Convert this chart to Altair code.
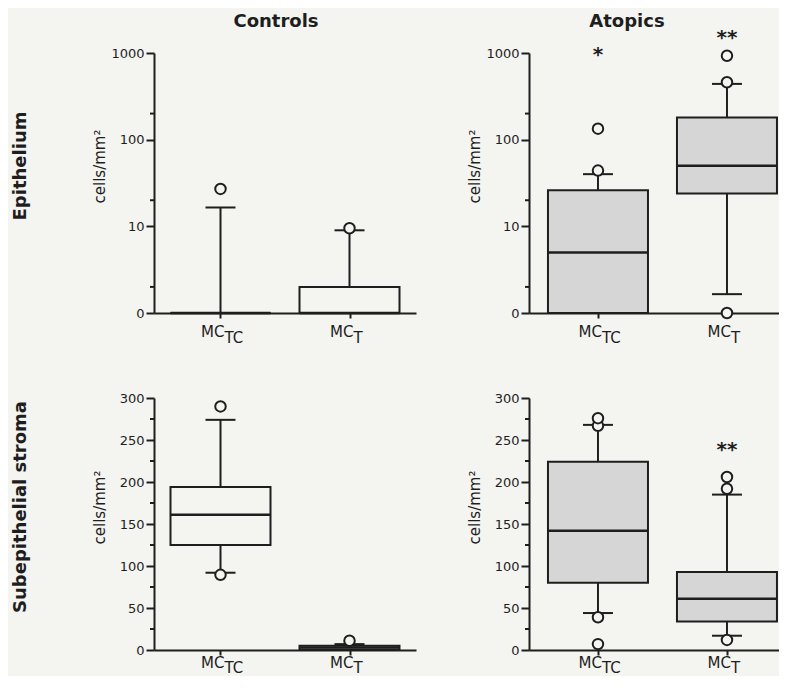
import altair as alt
import pandas as pd

# ---------------- data ----------------
categories = ["MC_TC", "MC_T"]
cat_main = ["MC", "MC"]
cat_sub = ["TC", "T"]
col_titles = ["Controls", "Atopics"]
row_titles = ["Epithelium", "Subepithelial stroma"]
y_title = "cells/mm²"

# Epithelium - Controls (log axis; 0 is drawn at the bottom decade)
epi_ctrl_q1 = [0, 0]
epi_ctrl_med = [0, 0]
epi_ctrl_q3 = [0, 2]
epi_ctrl_lo = [0, 0]
epi_ctrl_hi = [16.5, 9]
epi_ctrl_out_cat = ["MC_TC", "MC_T"]
epi_ctrl_out_val = [27, 9.5]

# Epithelium - Atopics
epi_atop_q1 = [0, 24]
epi_atop_med = [5, 50]
epi_atop_q3 = [26, 180]
epi_atop_lo = [0, 1.65]
epi_atop_hi = [40, 440]
epi_atop_out_cat = ["MC_TC", "MC_TC", "MC_T", "MC_T", "MC_T"]
epi_atop_out_val = [44, 134, 0, 460, 930]
epi_atop_star_cat = ["MC_TC", "MC_T"]
epi_atop_star_txt = ["*", "**"]
epi_atop_star_val = [1000, 1570]

# Subepithelial stroma - Controls
str_ctrl_q1 = [125, 0.5]
str_ctrl_med = [161, 3]
str_ctrl_q3 = [194, 5]
str_ctrl_lo = [92, 0]
str_ctrl_hi = [274, 7]
str_ctrl_out_cat = ["MC_TC", "MC_TC", "MC_T"]
str_ctrl_out_val = [89.5, 290, 11]

# Subepithelial stroma - Atopics
str_atop_q1 = [80, 34]
str_atop_med = [142, 61]
str_atop_q3 = [224, 93]
str_atop_lo = [44, 17]
str_atop_hi = [268, 185]
str_atop_out_cat = ["MC_TC", "MC_TC", "MC_TC", "MC_TC", "MC_T", "MC_T", "MC_T"]
str_atop_out_val = [7, 39, 267, 276, 12, 192, 206]
str_atop_star_cat = ["MC_T"]
str_atop_star_txt = ["**"]
str_atop_star_val = [240]

log_ticks = [1, 10, 100, 1000]
log_minor = [2, 20, 200]
lin_ticks = [0, 50, 100, 150, 200, 250, 300]
lin_minor = [25, 75, 125, 175, 225, 275]

# ---------------- style ----------------
FONT = "DejaVu Sans"
INK = "#1e1e1e"
BG = "#f4f4f1"
FILL_CTRL = "#f4f4f1"
FILL_ATOP = "#d6d6d6"


def axis_for(h):
    return dict(
        title=y_title, titleFont=FONT, titleFontSize=15, titleFontWeight="normal",
        titleColor=INK, titleX=-47, titleY=h / 2 - 17, titleAngle=270, titleAlign="center",
        titleBaseline="bottom", labelFont=FONT, labelFontSize=13, labelColor=INK,
        labelPadding=2, tickSize=8, tickWidth=2, tickColor=INK, domainWidth=2,
        domainColor=INK, grid=False,
    )


xaxis = alt.Axis(title="", labels=False, tickSize=5, tickWidth=2, tickColor=INK,
                 domainWidth=2, domainColor=INK, grid=False)


def panel(q1, med, q3, lo, hi, out_cat, out_val, fill, log, width, height, pad, align,
          lab_main, lab_sub, star_cat=None, star_txt=None, star_val=None,
          col_title=None, col_dx=0, row_title=None):
    floor = 1 if log else 0
    if log:
        yscale = alt.Scale(type="log", domain=[1, 1000])
        yaxis = alt.Axis(values=log_ticks,
                         labelExpr="datum.value <= 1 ? '0' : format(datum.value, 'd')",
                         **axis_for(height))
        minor = log_minor
    else:
        yscale = alt.Scale(domain=[0, 300], nice=False)
        yaxis = alt.Axis(values=lin_ticks, **axis_for(height))
        minor = lin_minor
    xscale = alt.Scale(type="point", domain=categories, padding=pad, align=align)
    X = alt.X("cat:N", scale=xscale, axis=xaxis)

    def Y(f):
        return alt.Y(f, type="quantitative", scale=yscale, axis=yaxis)

    box_df = pd.DataFrame({"cat": categories, "main": cat_main, "sub": cat_sub,
                           "q1": q1, "med": med, "q3": q3, "lo": lo, "hi": hi})
    base = alt.Chart(box_df).transform_calculate(
        **{f + "p": f"max(datum.{f}, {floor})" for f in ["q1", "med", "q3", "lo", "hi"]}
    )
    layers = [
        base.mark_rule(color=INK, strokeWidth=2).encode(x=X, y=Y("lop"), y2="q1p"),
        base.mark_rule(color=INK, strokeWidth=2).encode(x=X, y=Y("q3p"), y2="hip"),
        base.mark_bar(size=100, fill=fill, stroke=INK, strokeWidth=2, opacity=1).encode(
            x=X, y=Y("q1p"), y2="q3p"),
        base.mark_tick(size=100, thickness=2.5, color=INK, opacity=1).encode(x=X, y=Y("medp")),
        base.mark_tick(size=30, thickness=2, color=INK, opacity=1).encode(x=X, y=Y("lop")),
        base.mark_tick(size=30, thickness=2, color=INK, opacity=1).encode(x=X, y=Y("hip")),
    ]
    out_df = pd.DataFrame({"cat": out_cat, "v": out_val})
    layers.append(
        alt.Chart(out_df).transform_calculate(vp=f"max(datum.v, {floor})")
        .mark_point(shape="circle", size=110, filled=True, fill=BG, stroke=INK,
                    strokeWidth=2, opacity=1)
        .encode(x=X, y=Y("vp"))
    )
    layers.append(
        alt.Chart(pd.DataFrame({"t": minor})).mark_rule(color=INK, strokeWidth=2)
        .encode(y=Y("t"), x=alt.value(-4), x2=alt.value(0))
    )
    lab = alt.Chart(box_df)
    layers.append(lab.mark_text(align="right", baseline="alphabetic", dx=4, font=FONT,
                                fontSize=15, color=INK)
                  .encode(x=X, y=alt.value(height + lab_main), text="main:N"))
    layers.append(lab.mark_text(align="left", baseline="alphabetic", dx=4, font=FONT,
                                fontSize=15, color=INK)
                  .encode(x=X, y=alt.value(height + lab_sub), text="sub:N"))
    if star_cat:
        star_df = pd.DataFrame({"cat": star_cat, "s": star_txt, "v": star_val})
        layers.append(alt.Chart(star_df).mark_text(font=FONT, fontSize=20, fontWeight="bold",
                                                   baseline="alphabetic", dy=8, color=INK)
                      .encode(x=X, y=Y("v"), text="s:N"))
    if col_title:
        layers.append(alt.Chart(pd.DataFrame({"t": [col_title]}))
                      .mark_text(font=FONT, fontSize=18, fontWeight="bold",
                                 baseline="alphabetic", align="center", color=INK)
                      .encode(x=alt.value(width / 2 + col_dx), y=alt.value(-26), text="t:N"))
    if row_title:
        layers.append(alt.Chart(pd.DataFrame({"t": [row_title]}))
                      .mark_text(font=FONT, fontSize=18, fontWeight="bold", angle=270,
                                 baseline="middle", align="center", color=INK)
                      .encode(x=alt.value(-133), y=alt.value(height / 2 - 17), text="t:N"))
    return alt.layer(*layers).properties(width=width, height=height)


p11 = panel(epi_ctrl_q1, epi_ctrl_med, epi_ctrl_q3, epi_ctrl_lo, epi_ctrl_hi,
            epi_ctrl_out_cat, epi_ctrl_out_val, FILL_CTRL, True, 262, 260, 0.5155, 0.5,
            24, 30, col_title=col_titles[0], col_dx=-9, row_title=row_titles[0])
p12 = panel(epi_atop_q1, epi_atop_med, epi_atop_q3, epi_atop_lo, epi_atop_hi,
            epi_atop_out_cat, epi_atop_out_val, FILL_ATOP, True, 250, 260, 0.469, 0.57,
            24, 30, star_cat=epi_atop_star_cat, star_txt=epi_atop_star_txt,
            star_val=epi_atop_star_val, col_title=col_titles[1], col_dx=-27)
p21 = panel(str_ctrl_q1, str_ctrl_med, str_ctrl_q3, str_ctrl_lo, str_ctrl_hi,
            str_ctrl_out_cat, str_ctrl_out_val, FILL_CTRL, False, 262, 252, 0.5155, 0.5,
            18, 23, row_title=row_titles[1])
p22 = panel(str_atop_q1, str_atop_med, str_atop_q3, str_atop_lo, str_atop_hi,
            str_atop_out_cat, str_atop_out_val, FILL_ATOP, False, 250, 252, 0.469, 0.57,
            18, 23, star_cat=str_atop_star_cat, star_txt=str_atop_star_txt,
            star_val=str_atop_star_val)

top = alt.hconcat(p11, p12, spacing=51)
bottom = alt.hconcat(p21, p22, spacing=51)
chart = alt.vconcat(top, bottom, spacing=46).properties(
    padding={"left": 3, "top": 5, "right": 0, "bottom": 0},
    background=BG,
).configure(font=FONT).configure_view(strokeWidth=0, stroke="transparent")

chart.save("out.html", embed_options={"renderer": "svg", "actions": False})
